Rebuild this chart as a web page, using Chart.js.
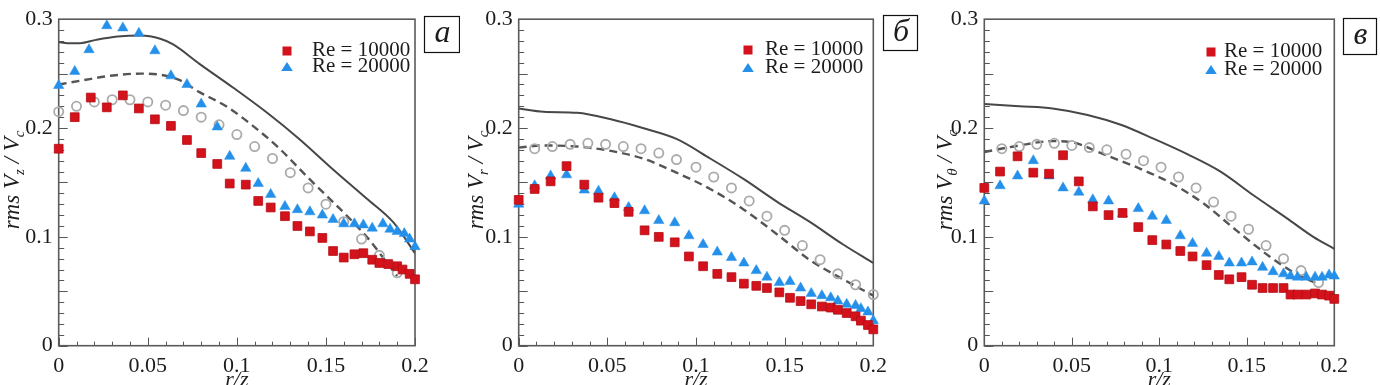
<!DOCTYPE html>
<html>
<head>
<meta charset="utf-8">
<script src="https://cdn.jsdelivr.net/npm/chart.js@4.4.1/dist/chart.umd.min.js"></script>
<style>
  body { margin: 0; background: #fff; width: 1380px; height: 385px; overflow: hidden; position: relative; }
  canvas { position: absolute; top: 0; }
</style>
</head>
<body>
<canvas id="chartA" width="460" height="385" style="left:0px"></canvas>
<canvas id="chartB" width="460" height="385" style="left:460px"></canvas>
<canvas id="chartC" width="460" height="385" style="left:920px"></canvas>
<script>
// ---- data (r/z, rms/Vc) ----
var seriesLabels = ['Re = 10000', 'Re = 20000'];
var xTickLabels = ['0', '0.05', '0.1', '0.15', '0.2'];
var yTickLabels = ['0', '0.1', '0.2', '0.3'];

// panel a: rms Vz / Vc
var a_sq_x = [0, 0.009, 0.018, 0.027, 0.036, 0.045, 0.054, 0.063, 0.072, 0.080, 0.089, 0.096, 0.105, 0.112, 0.119, 0.127, 0.134, 0.141, 0.148, 0.154, 0.160, 0.166, 0.171, 0.176, 0.180, 0.185, 0.190, 0.193, 0.197, 0.200];
var a_sq_y = [0.181, 0.210, 0.228, 0.219, 0.230, 0.218, 0.208, 0.202, 0.189, 0.177, 0.167, 0.149, 0.148, 0.133, 0.127, 0.119, 0.110, 0.105, 0.099, 0.087, 0.081, 0.084, 0.085, 0.079, 0.076, 0.075, 0.073, 0.070, 0.066, 0.061];
var a_tri_x = [0, 0.009, 0.017, 0.027, 0.036, 0.045, 0.054, 0.063, 0.072, 0.080, 0.089, 0.096, 0.105, 0.112, 0.119, 0.127, 0.134, 0.141, 0.148, 0.154, 0.160, 0.166, 0.171, 0.176, 0.182, 0.186, 0.190, 0.194, 0.197, 0.200];
var a_tri_y = [0.239, 0.252, 0.272, 0.294, 0.292, 0.287, 0.271, 0.248, 0.240, 0.222, 0.201, 0.174, 0.163, 0.149, 0.139, 0.128, 0.125, 0.123, 0.120, 0.116, 0.112, 0.112, 0.111, 0.108, 0.112, 0.107, 0.105, 0.103, 0.098, 0.091];
var a_circ_x = [0, 0.010, 0.020, 0.030, 0.040, 0.050, 0.060, 0.070, 0.080, 0.090, 0.100, 0.110, 0.120, 0.130, 0.140, 0.150, 0.160, 0.170, 0.180, 0.190];
var a_circ_y = [0.215, 0.220, 0.224, 0.226, 0.226, 0.224, 0.221, 0.216, 0.210, 0.203, 0.194, 0.183, 0.172, 0.159, 0.145, 0.130, 0.114, 0.098, 0.083, 0.067];
var a_solid_x = [0, 0.005, 0.012, 0.021, 0.033, 0.046, 0.057, 0.064, 0.079, 0.098, 0.117, 0.135, 0.154, 0.173, 0.188, 0.200];
var a_solid_y = [0.279, 0.278, 0.278, 0.281, 0.284, 0.285, 0.282, 0.277, 0.259, 0.237, 0.214, 0.190, 0.162, 0.135, 0.113, 0.085];
var a_dash_x = [0, 0.014, 0.029, 0.046, 0.057, 0.068, 0.079, 0.094, 0.109, 0.124, 0.139, 0.154, 0.165, 0.175, 0.182, 0.190];
var a_dash_y = [0.240, 0.244, 0.248, 0.250, 0.249, 0.244, 0.233, 0.220, 0.202, 0.181, 0.156, 0.132, 0.114, 0.096, 0.081, 0.064];

// panel b: rms Vr / Vc
var b_pts_x = [0, 0.009, 0.018, 0.027, 0.037, 0.045, 0.054, 0.062, 0.071, 0.079, 0.088, 0.096, 0.104, 0.112, 0.120, 0.127, 0.134, 0.140, 0.147, 0.153, 0.159, 0.165, 0.171, 0.176, 0.180, 0.185, 0.190, 0.193, 0.197, 0.200];
var b_sq_y = [0.134, 0.144, 0.151, 0.165, 0.148, 0.136, 0.131, 0.123, 0.106, 0.100, 0.095, 0.082, 0.073, 0.066, 0.063, 0.057, 0.055, 0.053, 0.049, 0.044, 0.041, 0.038, 0.036, 0.035, 0.033, 0.030, 0.027, 0.023, 0.019, 0.015];
var b_tri_y = [0.130, 0.147, 0.156, 0.157, 0.143, 0.142, 0.136, 0.127, 0.124, 0.115, 0.113, 0.101, 0.093, 0.086, 0.081, 0.076, 0.069, 0.063, 0.058, 0.059, 0.053, 0.048, 0.046, 0.044, 0.041, 0.038, 0.037, 0.034, 0.031, 0.023];
var b_circ_x = [0.009, 0.019, 0.029, 0.039, 0.049, 0.059, 0.069, 0.079, 0.089, 0.100, 0.110, 0.120, 0.130, 0.140, 0.150, 0.160, 0.170, 0.180, 0.190, 0.200];
var b_circ_y = [0.181, 0.183, 0.185, 0.186, 0.185, 0.183, 0.181, 0.177, 0.171, 0.164, 0.155, 0.145, 0.133, 0.119, 0.106, 0.092, 0.079, 0.066, 0.056, 0.047];
var b_line_x = [0, 0.014, 0.033, 0.052, 0.070, 0.089, 0.108, 0.127, 0.146, 0.164, 0.183, 0.200];
var b_solid_y = [0.218, 0.215, 0.214, 0.208, 0.200, 0.190, 0.172, 0.153, 0.132, 0.114, 0.093, 0.076];
var b_dash_y = [0.182, 0.184, 0.183, 0.179, 0.172, 0.159, 0.144, 0.125, 0.102, 0.079, 0.061, 0.046];

// panel c: rms Vtheta / Vc
var c_pts_x = [0, 0.009, 0.019, 0.028, 0.037, 0.045, 0.054, 0.062, 0.071, 0.079, 0.088, 0.096, 0.104, 0.112, 0.119, 0.127, 0.134, 0.140, 0.147, 0.153, 0.159, 0.165, 0.171, 0.175, 0.179, 0.184, 0.189, 0.193, 0.197, 0.200];
var c_sq_y = [0.145, 0.160, 0.174, 0.159, 0.158, 0.175, 0.151, 0.128, 0.120, 0.122, 0.109, 0.097, 0.093, 0.087, 0.082, 0.074, 0.065, 0.061, 0.063, 0.056, 0.053, 0.053, 0.053, 0.047, 0.047, 0.047, 0.048, 0.047, 0.046, 0.043];
var c_tri_y = [0.133, 0.147, 0.156, 0.170, 0.156, 0.145, 0.141, 0.134, 0.133, 0.121, 0.126, 0.119, 0.115, 0.101, 0.094, 0.085, 0.082, 0.076, 0.076, 0.077, 0.072, 0.068, 0.066, 0.064, 0.063, 0.063, 0.063, 0.063, 0.065, 0.064];
var c_circ_x = [0.010, 0.020, 0.030, 0.040, 0.050, 0.060, 0.070, 0.081, 0.091, 0.101, 0.111, 0.121, 0.131, 0.141, 0.151, 0.161, 0.171, 0.181, 0.191];
var c_circ_y = [0.181, 0.183, 0.185, 0.186, 0.184, 0.182, 0.180, 0.176, 0.170, 0.164, 0.155, 0.145, 0.132, 0.119, 0.107, 0.092, 0.080, 0.069, 0.058];
var c_solid_x = [0, 0.020, 0.039, 0.059, 0.078, 0.097, 0.116, 0.135, 0.154, 0.173, 0.188, 0.200];
var c_solid_y = [0.222, 0.220, 0.218, 0.212, 0.203, 0.190, 0.176, 0.160, 0.138, 0.117, 0.100, 0.089];
var c_dash_x = [0, 0.020, 0.039, 0.050, 0.068, 0.087, 0.106, 0.125, 0.144, 0.163, 0.177, 0.190];
var c_dash_y = [0.178, 0.184, 0.188, 0.187, 0.176, 0.164, 0.150, 0.131, 0.106, 0.082, 0.067, 0.057];

var FONT = '"Liberation Serif", "Times New Roman", serif';
var RED = '#d3121b';
var BLUE = '#2590ea';
var TEXT = '#1c1c1c';

function toPoints(xs, ys) {
    return xs.map(function (x, i) { return { x: x, y: ys[i] }; });
}

function fmtTick(list) {
    return function (value) {
        var s = String(parseFloat(value.toFixed(2)));
        return list.indexOf(s) >= 0 ? s : '';
    };
}

// frame, inward ticks, axis titles, legend and the panel letter
var decorPlugin = {
    id: 'decor',
    beforeDatasetsDraw: function (chart) {
        var ctx = chart.ctx, area = chart.chartArea;
        var xs = chart.scales.x, ys = chart.scales.y;
        ctx.save();
        ctx.strokeStyle = '#555';
        ctx.lineWidth = 1;
        ctx.beginPath();
        for (var i = 0; i <= 30; i++) {
            var py = Math.round(ys.getPixelForValue(i / 100)) + 0.5;
            var len = (i % 5 === 0) ? 9 : 5.5;
            ctx.moveTo(area.left, py);
            ctx.lineTo(area.left + len, py);
        }
        for (var j = 0; j <= 20; j++) {
            var px = Math.round(xs.getPixelForValue(j / 100)) + 0.5;
            var l2 = (j % 5 === 0) ? 8 : 4;
            ctx.moveTo(px, area.bottom);
            ctx.lineTo(px, area.bottom - l2);
        }
        ctx.stroke();
        ctx.lineWidth = 1.6;
        ctx.strokeStyle = '#5a5a5a';
        ctx.strokeRect(area.left, area.top, area.right - area.left, area.bottom - area.top);
        ctx.restore();
    },
    afterDraw: function (chart, args, o) {
        var ctx = chart.ctx, area = chart.chartArea;
        ctx.save();
        ctx.fillStyle = TEXT;

        // y title, rotated, with subscripts
        var parts = [['rms V', false], [o.sub, true], [' / V', false], ['c', true]];
        var total = 0;
        parts.forEach(function (p) {
            ctx.font = p[1] ? 'italic 15px ' + FONT : 'italic 23px ' + FONT;
            total += ctx.measureText(p[0]).width;
        });
        ctx.translate(o.titleX, o.titleY);
        ctx.rotate(-Math.PI / 2);
        ctx.textBaseline = 'alphabetic';
        ctx.textAlign = 'left';
        var cx = -total / 2;
        parts.forEach(function (p) {
            ctx.font = p[1] ? 'italic 15px ' + FONT : 'italic 23px ' + FONT;
            ctx.fillText(p[0], cx, p[1] ? 5 : 0);
            cx += ctx.measureText(p[0]).width;
        });
        ctx.setTransform(1, 0, 0, 1, 0, 0);

        // x title (partly below the bottom edge, as in the figure)
        ctx.font = 'italic 22px ' + FONT;
        ctx.textAlign = 'center';
        ctx.fillText('r/z', (area.left + area.right) / 2, 386);

        // legend
        var lg = o.legend;
        ctx.fillStyle = RED;
        ctx.fillRect(lg.mx - 4.5, lg.y1 - 4.5, 9, 9);
        ctx.fillStyle = BLUE;
        ctx.beginPath();
        ctx.moveTo(lg.mx, lg.y2 - 5);
        ctx.lineTo(lg.mx + 5.8, lg.y2 + 4);
        ctx.lineTo(lg.mx - 5.8, lg.y2 + 4);
        ctx.closePath();
        ctx.fill();
        ctx.fillStyle = TEXT;
        ctx.font = '21px ' + FONT;
        ctx.textAlign = 'left';
        ctx.textBaseline = 'middle';
        ctx.fillText(seriesLabels[0], lg.tx, lg.y1 - 1);
        ctx.fillText(seriesLabels[1], lg.tx, lg.y2 - 1);

        // panel letter in a box
        var b = o.box;
        ctx.strokeStyle = '#111';
        ctx.lineWidth = 1.2;
        ctx.strokeRect(b.x + 0.5, b.y + 0.5, b.w, b.h);
        ctx.font = 'italic 32px ' + FONT;
        ctx.textAlign = 'center';
        ctx.textBaseline = 'middle';
        ctx.fillText(o.letter, b.x + b.w / 2 + 1, b.y + b.h / 2);
        ctx.restore();
    }
};

function makeChart(id, sets, p) {
    var ctx = document.getElementById(id).getContext('2d');
    return new Chart(ctx, {
        type: 'scatter',
        data: {
            datasets: [
                {
                    label: seriesLabels[0],
                    data: toPoints(sets.sqX, sets.sqY),
                    pointStyle: 'rect',
                    pointRadius: 6.2,
                    backgroundColor: RED,
                    borderColor: '#b50d14',
                    borderWidth: 0.8,
                    clip: false
                },
                {
                    label: seriesLabels[1],
                    data: toPoints(sets.triX, sets.triY),
                    pointStyle: 'triangle',
                    pointRadius: 6,
                    backgroundColor: BLUE,
                    borderColor: BLUE,
                    borderWidth: 0.5,
                    clip: false
                },
                {
                    label: 'circles',
                    data: toPoints(sets.circX, sets.circY),
                    pointStyle: 'circle',
                    pointRadius: 4.6,
                    backgroundColor: 'rgba(255,255,255,0)',
                    borderColor: '#aaaaaa',
                    borderWidth: 1.8,
                    clip: false
                },
                {
                    label: 'solid',
                    data: toPoints(sets.solidX, sets.solidY),
                    showLine: true,
                    pointRadius: 0,
                    borderColor: '#474747',
                    borderWidth: 2,
                    cubicInterpolationMode: 'monotone'
                },
                {
                    label: 'dashed',
                    data: toPoints(sets.dashX, sets.dashY),
                    showLine: true,
                    pointRadius: 0,
                    borderColor: '#555555',
                    borderWidth: 2.4,
                    borderDash: [8, 5],
                    cubicInterpolationMode: 'monotone'
                }
            ]
        },
        options: {
            responsive: false,
            animation: false,
            events: [],
            layout: { padding: { left: 0, right: p.padRight, top: p.padTop, bottom: 0 } },
            plugins: {
                legend: { display: false },
                tooltip: { enabled: false },
                decor: p.decor
            },
            scales: {
                x: {
                    type: 'linear',
                    min: 0,
                    max: 0.2,
                    afterFit: function (s) { s.height = 39.3; },
                    grid: { display: false, drawTicks: false },
                    border: { display: false },
                    ticks: {
                        stepSize: 0.05,
                        padding: 7,
                        maxRotation: 0,
                        autoSkip: false,
                        color: TEXT,
                        font: { family: FONT, size: 22 },
                        callback: fmtTick(xTickLabels)
                    }
                },
                y: {
                    min: 0,
                    max: 0.3,
                    afterFit: function (s) { s.width = p.yWidth; },
                    grid: { display: false, drawTicks: false },
                    border: { display: false },
                    ticks: {
                        stepSize: 0.1,
                        padding: 6,
                        color: TEXT,
                        font: { family: FONT, size: 22 },
                        callback: fmtTick(yTickLabels)
                    }
                }
            }
        },
        plugins: [decorPlugin]
    });
}

makeChart('chartA', {
    sqX: a_sq_x, sqY: a_sq_y, triX: a_tri_x, triY: a_tri_y,
    circX: a_circ_x, circY: a_circ_y, solidX: a_solid_x, solidY: a_solid_y,
    dashX: a_dash_x, dashY: a_dash_y
}, {
    yWidth: 58.7, padRight: 45, padTop: 15,
    decor: { sub: 'z', titleX: 19, titleY: 180, letter: 'а',
             box: { x: 424, y: 16, w: 35, h: 36 },
             legend: { mx: 287, tx: 312, y1: 51, y2: 67 } }
});

makeChart('chartB', {
    sqX: b_pts_x, sqY: b_sq_y, triX: b_pts_x, triY: b_tri_y,
    circX: b_circ_x, circY: b_circ_y, solidX: b_line_x, solidY: b_solid_y,
    dashX: b_line_x, dashY: b_dash_y
}, {
    yWidth: 58.7, padRight: 46.7, padTop: 15,
    decor: { sub: 'r', titleX: 23, titleY: 180, letter: 'б',
             box: { x: 423, y: 15, w: 34, h: 35 },
             legend: { mx: 288, tx: 305, y1: 50, y2: 68 } }
});

makeChart('chartC', {
    sqX: c_pts_x, sqY: c_sq_y, triX: c_pts_x, triY: c_tri_y,
    circX: c_circ_x, circY: c_circ_y, solidX: c_solid_x, solidY: c_solid_y,
    dashX: c_dash_x, dashY: c_dash_y
}, {
    yWidth: 64.3, padRight: 45.7, padTop: 19,
    decor: { sub: 'θ', titleX: 32, titleY: 180, letter: 'в',
             box: { x: 423, y: 18, w: 33, h: 36 },
             legend: { mx: 291, tx: 304, y1: 52, y2: 70 } }
});
</script>
</body>
</html>
